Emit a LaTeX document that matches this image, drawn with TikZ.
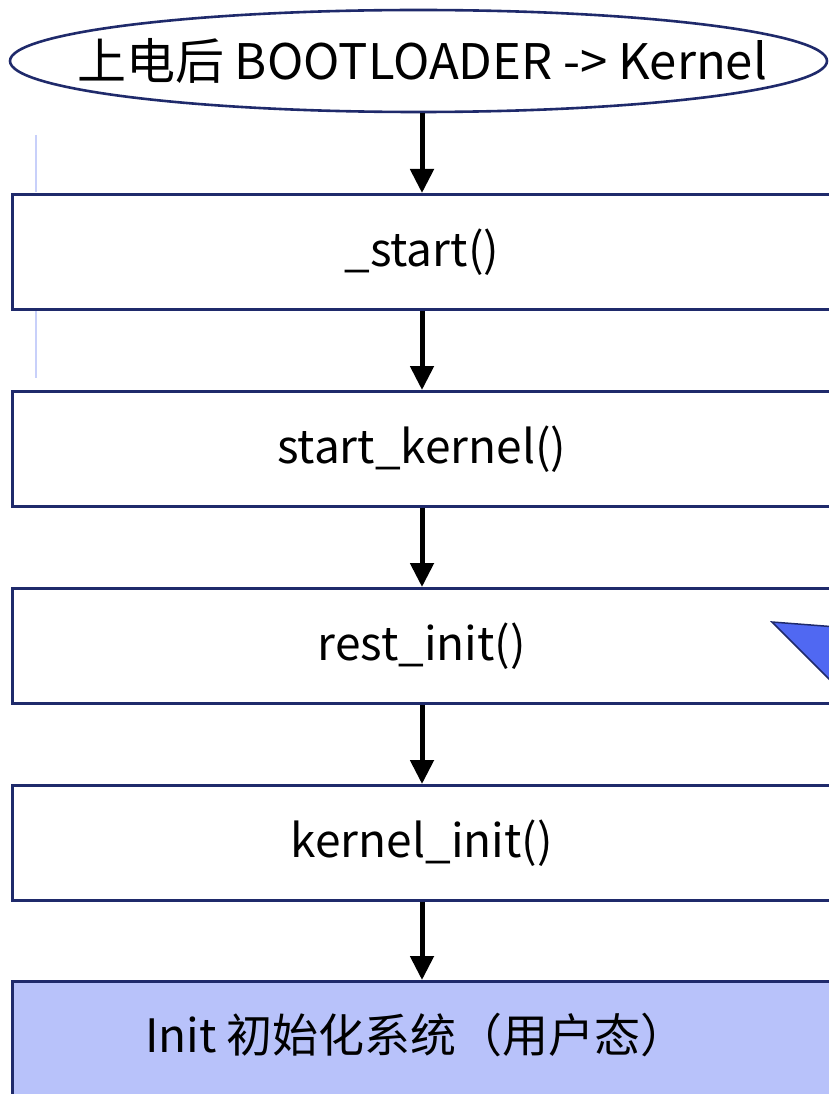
\documentclass[tikz,border=0pt]{standalone}
\usepackage{fontspec}
\setmainfont{Noto Sans CJK SC}
\usetikzlibrary{shapes.geometric,arrows.meta}
\definecolor{edge}{HTML}{1F2A6B}
\definecolor{initfill}{HTML}{B8C2FA}
\definecolor{trifill}{HTML}{5068F2}
\definecolor{faint}{HTML}{C8D0FA}
\begin{document}
\begin{tikzpicture}[x=1pt,y=-1pt,
  every node/.style={font=\fontsize{46}{54}\selectfont, inner sep=0pt},
  stepbox/.style={draw=edge, line width=2.6pt, minimum width=819pt, minimum height=115pt, anchor=north west},
  flow/.style={line width=5pt, -{Triangle[width=23pt,length=24pt]}}]
\useasboundingbox (0,0) rectangle (828,1094);
\fill[white] (0,0) rectangle (828,1094);
\draw[faint, line width=1.5pt] (36,135) -- (36,192);
\draw[faint, line width=1.5pt] (36,310) -- (36,378);
\node[ellipse, draw=edge, line width=2.6pt, minimum width=817pt, minimum height=102pt] (top) at (418.5,61) {};
\node[font=\fontsize{49}{56}\selectfont] at (422,61) {上电后 BOOTLOADER -> Kernel};
\node[stepbox] (s1) at (11,193) {};
\node at (s1.center) {\_start()};
\node[stepbox] (s2) at (11,390) {};
\node at (s2.center) {start\_kernel()};
\node[stepbox] (s3) at (11,587) {};
\node at (s3.center) {rest\_init()};
\node[stepbox] (s4) at (11,784) {};
\node at (s4.center) {kernel\_init()};
\node[stepbox, fill=initfill, minimum height=140pt] (s5) at (11,980) {};
\node at (416,1035) {Init 初始化系统（用户态）};
\draw[draw=edge, fill=trifill, line width=1.5pt] (772,622) -- (850,628) -- (850,700) -- cycle;
\draw[flow] (top.south -| 422,0) -- (s1.north -| 422,0);
\draw[flow] (s1.south -| 422,0) -- (s2.north -| 422,0);
\draw[flow] (s2.south -| 422,0) -- (s3.north -| 422,0);
\draw[flow] (s3.south -| 422,0) -- (s4.north -| 422,0);
\draw[flow] (s4.south -| 422,0) -- (s5.north -| 422,0);
\end{tikzpicture}
\end{document}
